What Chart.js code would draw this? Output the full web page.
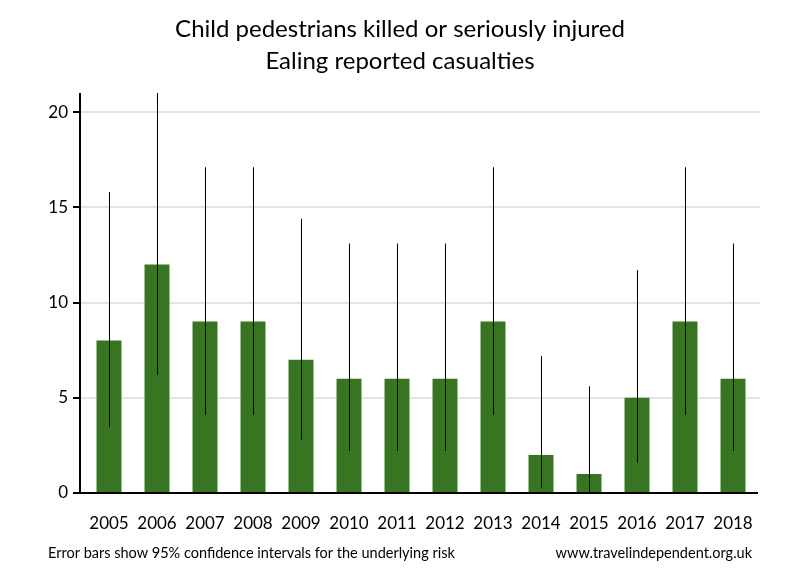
<!DOCTYPE html>
<html>
<head>
<meta charset="utf-8">
<script src="https://cdn.jsdelivr.net/npm/chart.js@4/dist/chart.umd.min.js"></script>
<style>
  html, body { margin: 0; padding: 0; background: #fff; }
  #wrap { width: 800px; height: 580px; }
</style>
</head>
<body>
<div id="wrap"><canvas id="chart"></canvas></div>
<script>
// chart values
const years = ['2005', '2006', '2007', '2008', '2009', '2010', '2011', '2012', '2013', '2014', '2015', '2016', '2017', '2018'];
const casualties = [8, 12, 9, 9, 7, 6, 6, 6, 9, 2, 1, 5, 9, 6];
const ciLow = [3.45, 6.2, 4.1, 4.1, 2.8, 2.2, 2.2, 2.2, 4.1, 0.24, 0.03, 1.6, 4.1, 2.2];
const ciHigh = [15.8, 21, 17.1, 17.1, 14.4, 13.1, 13.1, 13.1, 17.1, 7.2, 5.6, 11.7, 17.1, 13.1];
const yTicks = [0, 5, 10, 15, 20];

const titleLines = ['Child pedestrians killed or seriously injured', 'Ealing reported casualties'];
const footLeft = 'Error bars show 95% confidence intervals for the underlying risk';
const footRight = 'www.travelindependent.org.uk';

const FONT = 'Lato, "Open Sans", sans-serif';

// draws titles, grid, axes, error bars and footer text
const extras = {
    id: 'extras',
    beforeDatasetsDraw(chart) {
        const ctx = chart.ctx;
        const y = chart.scales.y;
        const area = chart.chartArea;
        ctx.save();
        ctx.strokeStyle = '#e4e4e4';
        ctx.lineWidth = 2;
        yTicks.forEach(v => {
            if (v === 0) return;
            const py = Math.round(y.getPixelForValue(v));
            ctx.beginPath();
            ctx.moveTo(area.left - 5, py);
            ctx.lineTo(area.right + 3, py);
            ctx.stroke();
        });
        ctx.restore();
    },
    afterDatasetsDraw(chart) {
        const ctx = chart.ctx;
        const x = chart.scales.x;
        const y = chart.scales.y;
        const area = chart.chartArea;
        ctx.save();
        // error bars
        ctx.strokeStyle = '#000';
        ctx.lineWidth = 1;
        years.forEach((yr, i) => {
            const px = Math.round(x.getPixelForValue(i)) + 0.5;
            ctx.beginPath();
            ctx.moveTo(px, y.getPixelForValue(ciLow[i]));
            ctx.lineTo(px, y.getPixelForValue(Math.min(ciHigh[i], y.max)));
            ctx.stroke();
        });
        // axes
        ctx.lineWidth = 2;
        const ax = area.left - 5;
        ctx.beginPath();
        ctx.moveTo(ax, area.top);
        ctx.lineTo(ax, area.bottom);
        ctx.stroke();
        ctx.beginPath();
        ctx.moveTo(ax - 7, area.bottom);
        ctx.lineTo(area.right + 1, area.bottom);
        ctx.stroke();
        yTicks.forEach(v => {
            const py = Math.round(y.getPixelForValue(v));
            ctx.beginPath();
            ctx.moveTo(ax - 7, py);
            ctx.lineTo(ax, py);
            ctx.stroke();
        });
        // title
        ctx.fillStyle = '#000';
        ctx.textBaseline = 'middle';
        ctx.textAlign = 'center';
        ctx.font = '24px ' + FONT;
        ctx.fillText(titleLines[0], 400, 29);
        ctx.fillText(titleLines[1], 400, 61);
        // footer
        ctx.font = '14.5px ' + FONT;
        ctx.textAlign = 'left';
        ctx.fillText(footLeft, 48, 553);
        ctx.textAlign = 'right';
        ctx.fillText(footRight, 752, 553);
        ctx.restore();
    }
};

const ctx = document.getElementById('chart').getContext('2d');
new Chart(ctx, {
    type: 'bar',
    data: {
        labels: years,
        datasets: [{
            data: casualties,
            backgroundColor: '#387522',
            barPercentage: 0.52,
            categoryPercentage: 1.0
        }]
    },
    options: {
        responsive: true,
        maintainAspectRatio: false,
        animation: false,
        layout: { padding: { top: 93, right: 43, bottom: 0, left: 0 } },
        plugins: {
            legend: { display: false },
            tooltip: { enabled: false },
            title: { display: false }
        },
        scales: {
            x: {
                grid: { display: false, drawTicks: false },
                border: { display: false },
                ticks: { color: '#000', padding: 20, font: { family: FONT, size: 17 }, maxRotation: 0 },
                afterFit(scale) { scale.height = 87; }
            },
            y: {
                min: 0,
                max: 21,
                grid: { display: false, drawTicks: false },
                border: { display: false },
                afterBuildTicks(scale) { scale.ticks = yTicks.map(v => ({ value: v })); },
                ticks: { color: '#000', padding: 17, font: { family: FONT, size: 17 } },
                afterFit(scale) { scale.width = 85; }
            }
        }
    },
    plugins: [extras]
});
</script>
</body>
</html>
